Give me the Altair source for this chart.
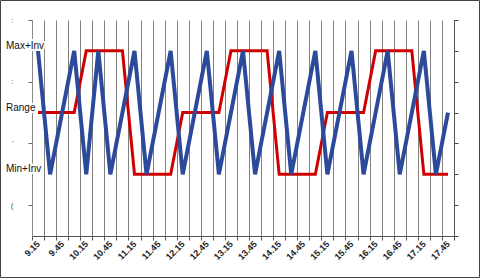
import altair as alt
import pandas as pd

times = ['9.15', '9.30', '9.45', '10.00', '10.15', '10.30', '10.45', '11.00',
         '11.15', '11.30', '11.45', '12.00', '12.15', '12.30', '12.45', '13.00',
         '13.15', '13.30', '13.45', '14.00', '14.15', '14.30', '14.45', '15.00',
         '15.15', '15.30', '15.45', '16.00', '16.15', '16.30', '16.45', '17.00',
         '17.15', '17.30', '17.45']
blue = [6, 2, 4, 6, 2, 6, 2, 4, 6, 2, 4, 6, 2, 4, 6, 2, 4, 6, 2, 4, 6, 2, 4, 6,
        2, 4, 6, 2, 4, 6, 2, 4, 6, 2, 4]
red = [4, 4, 4, 4, 6, 6, 6, 6, 2, 2, 2, 2, 4, 4, 4, 4, 6, 6, 6, 6, 2, 2, 2, 2,
       4, 4, 4, 4, 6, 6, 6, 6, 2, 2, 2]
level_names = ['Max+Inv', 'Range', 'Min+Inv']
level_values = [6, 4, 2]
left_tick_values = [1, 3, 5, 7]
left_tick_text = ['(', "'", ':', ':']

n = len(times)
df = pd.DataFrame({'idx': list(range(n)), 'time': times, 'blue': blue, 'red': red})
levels = pd.DataFrame({'label': level_names, 'v': level_values})

boundaries = [i - 0.5 for i in range(n + 1)]
shown = [t if i % 2 == 0 else '' for i, t in enumerate(times)] + ['']
label_expr = "[" + ",".join("'" + s + "'" for s in shown) + "][datum.value + 0.5] || ''"
left_expr = "{" + ",".join("'%d':'%s'" % (v, t.replace("'", "\\'")) for v, t in zip(left_tick_values, left_tick_text)) + "}[datum.value] || ''"

xscale = alt.Scale(domain=[-0.5, n - 0.5], nice=False, zero=False)
yscale = alt.Scale(domain=[0, 7], nice=False, zero=False)

x_axis = alt.Axis(values=boundaries, grid=True, gridColor='#808080', gridOpacity=1,
                  ticks=True, tickSize=4, tickColor='#555555', domainColor='#555555',
                  labelAngle=315, labelAlign='right', labelBaseline='middle',
                  labelOffset=6, labelPadding=2, labelFontSize=9, labelFontWeight='bold',
                  labelFont='Liberation Sans', labelColor='#222222', labelExpr=label_expr,
                  labelOverlap=False, title=None)

y_left = alt.Axis(values=left_tick_values, grid=False, ticks=True, tickSize=4,
                  tickColor='#666666', domainColor='#888888', labelExpr=left_expr,
                  labelFontSize=8, labelColor='#555555', labelPadding=15,
                  labelFont='Liberation Sans', title=None, orient='left')
y_right = alt.Axis(values=list(range(8)), grid=False, ticks=True, tickSize=4,
                   tickColor='#444444', domainColor='#555555', labels=False,
                   title=None, orient='right')

base = alt.Chart(df)

red_line = base.mark_line(color='#d00000', strokeWidth=3, strokeJoin='miter').encode(
    x=alt.X('idx:Q', scale=xscale, axis=x_axis),
    y=alt.Y('red:Q', scale=yscale, axis=y_right),
)
blue_line = base.mark_line(color='#2c4a9c', strokeWidth=4, strokeJoin='miter').encode(
    x=alt.X('idx:Q', scale=xscale, axis=x_axis),
    y=alt.Y('blue:Q', scale=yscale, axis=y_left),
)
halo = alt.Chart(levels).mark_text(align='left', baseline='middle', dy=-5,
                                   fontSize=10, font='Liberation Sans',
                                   color='white', stroke='white', strokeWidth=4).encode(
    x=alt.value(-26),
    y=alt.Y('v:Q', scale=yscale, axis=None),
    text='label:N',
)
level_text = alt.Chart(levels).mark_text(align='left', baseline='middle', dy=-5,
                                         fontSize=10, font='Liberation Sans',
                                         color='#111111').encode(
    x=alt.value(-26),
    y=alt.Y('v:Q', scale=yscale, axis=None),
    text='label:N',
)
frame = alt.Chart(pd.DataFrame({'a': [0]})).mark_rect(fillOpacity=0, stroke='#444444',
                                                      strokeWidth=1).encode(
    x=alt.value(-31.5), x2=alt.value(447.5), y=alt.value(-19.5), y2=alt.value(257.5)
)

chart = alt.layer(red_line, blue_line, halo, level_text, frame).resolve_axis(
    y='independent'
).resolve_scale(y='shared').properties(
    width=422, height=216,
    autosize=alt.AutoSizeParams(type='none'),
    padding={'left': 32, 'top': 20, 'right': 27, 'bottom': 44},
    background='white',
).configure_view(stroke=None)

chart.save("out.html", embed_options={"renderer": "svg", "actions": False})
